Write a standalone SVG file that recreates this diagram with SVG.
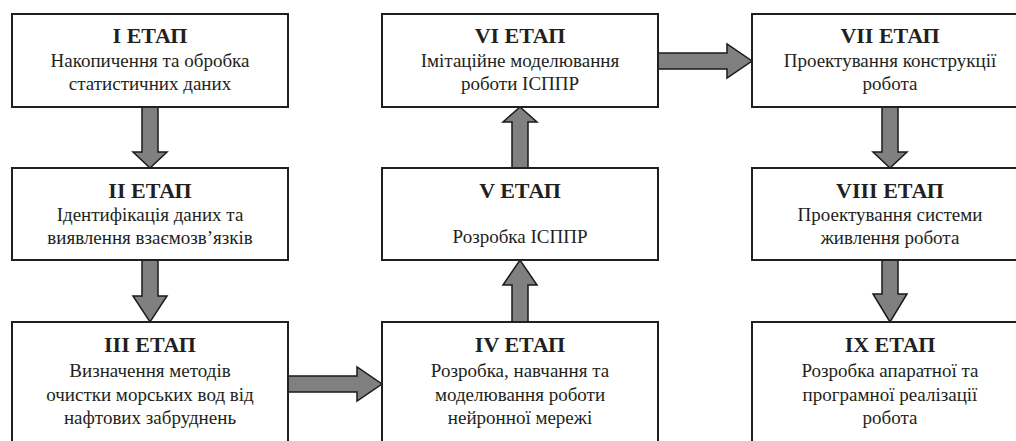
<svg xmlns="http://www.w3.org/2000/svg" width="1016" height="441" viewBox="0 0 1016 441">
<defs>
<style>
.box{fill:#fff;stroke:#231f20;stroke-width:2}
.arr{fill:#808080;stroke:#1a1a1a;stroke-width:1.5;stroke-linejoin:miter}
</style>
</defs>
<rect width="1016" height="441" fill="#fff"/>
<g id="connectors">
<path class="arr" d="M142,107 V152 H133 L150,168 L167,152 H158 V107 Z"/>
<path class="arr" d="M142,260 V296 H133 L150,322 L167,296 H158 V260 Z"/>
<path class="arr" d="M288,376 H357 V367 L382,384 L357,401 V392 H288 Z"/>
<path class="arr" d="M512,322 V285 H503 L520,260 L537,285 H528 V322 Z"/>
<path class="arr" d="M512,168 V122 H503 L520,107 L537,122 H528 V168 Z"/>
<path class="arr" d="M658,53 H727 V44 L752,61 L727,78 V69 H658 Z"/>
<path class="arr" d="M882,107 V152 H873 L890,168 L907,152 H898 V107 Z"/>
<path class="arr" d="M882,260 V294 H873 L890,322 L907,294 H898 V260 Z"/>
</g>
<g id="n1" font-family="Liberation Serif, Times New Roman, serif" fill="#231f20" text-anchor="middle" font-size="19">
<rect class="box" x="12" y="14" width="276" height="93"/>
<text x="150" y="43" font-size="22" font-weight="bold">I ЕТАП</text>
<text x="150" y="67">Накопичення та обробка</text>
<text x="150" y="90">статистичних даних</text>
</g>
<g id="n2" font-family="Liberation Serif, Times New Roman, serif" fill="#231f20" text-anchor="middle" font-size="19">
<rect class="box" x="12" y="168" width="276" height="92"/>
<text x="150" y="198" font-size="22" font-weight="bold">II ЕТАП</text>
<text x="150" y="221">Ідентифікація даних та</text>
<text x="150" y="244">виявлення взаємозв’язків</text>
</g>
<g id="n3" font-family="Liberation Serif, Times New Roman, serif" fill="#231f20" text-anchor="middle" font-size="19">
<rect class="box" x="12" y="322" width="276" height="140"/>
<text x="150" y="352" font-size="22" font-weight="bold">III ЕТАП</text>
<text x="150" y="377">Визначення методів</text>
<text x="150" y="401">очистки морських вод від</text>
<text x="150" y="424">нафтових забруднень</text>
</g>
<g id="n4" font-family="Liberation Serif, Times New Roman, serif" fill="#231f20" text-anchor="middle" font-size="19">
<rect class="box" x="382" y="322" width="276" height="140"/>
<text x="520" y="352" font-size="22" font-weight="bold">IV ЕТАП</text>
<text x="520" y="377">Розробка, навчання та</text>
<text x="520" y="401">моделювання роботи</text>
<text x="520" y="424">нейронної мережі</text>
</g>
<g id="n5" font-family="Liberation Serif, Times New Roman, serif" fill="#231f20" text-anchor="middle" font-size="19">
<rect class="box" x="382" y="168" width="276" height="92"/>
<text x="520" y="198" font-size="22" font-weight="bold">V ЕТАП</text>
<text x="520" y="243">Розробка ІСППР</text>
</g>
<g id="n6" font-family="Liberation Serif, Times New Roman, serif" fill="#231f20" text-anchor="middle" font-size="19">
<rect class="box" x="382" y="14" width="276" height="93"/>
<text x="520" y="43" font-size="22" font-weight="bold">VI ЕТАП</text>
<text x="520" y="67">Імітаційне моделювання</text>
<text x="520" y="90">роботи ІСППР</text>
</g>
<g id="n7" font-family="Liberation Serif, Times New Roman, serif" fill="#231f20" text-anchor="middle" font-size="19">
<rect class="box" x="752" y="14" width="290" height="93"/>
<text x="890" y="43" font-size="22" font-weight="bold">VII ЕТАП</text>
<text x="890" y="67">Проектування конструкції</text>
<text x="890" y="90">робота</text>
</g>
<g id="n8" font-family="Liberation Serif, Times New Roman, serif" fill="#231f20" text-anchor="middle" font-size="19">
<rect class="box" x="752" y="168" width="290" height="92"/>
<text x="890" y="198" font-size="22" font-weight="bold">VIII ЕТАП</text>
<text x="890" y="221">Проектування системи</text>
<text x="890" y="244">живлення робота</text>
</g>
<g id="n9" font-family="Liberation Serif, Times New Roman, serif" fill="#231f20" text-anchor="middle" font-size="19">
<rect class="box" x="752" y="322" width="290" height="140"/>
<text x="890" y="352" font-size="22" font-weight="bold">IX ЕТАП</text>
<text x="890" y="377">Розробка апаратної та</text>
<text x="890" y="401">програмної реалізації</text>
<text x="890" y="424">робота</text>
</g>
</svg>
